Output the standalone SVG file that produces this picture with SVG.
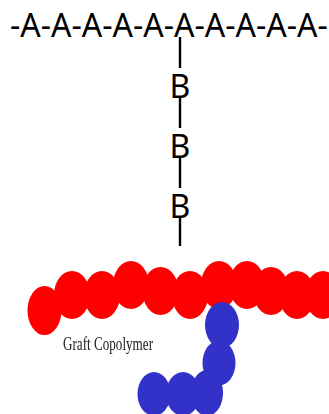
<svg xmlns="http://www.w3.org/2000/svg" width="329" height="414" viewBox="0 0 329 414">
  <style>
    .chem { font-family: "Noto Sans", sans-serif; font-size: 32px; fill: #000; }
    .bond { stroke: #000; stroke-width: 2.4; fill: none; }
    .red ellipse { fill: #ff0000; }
    .blue ellipse { fill: #3232c8; }
  </style>
  <defs>
    <filter id="soft" x="-5%" y="-5%" width="110%" height="110%"><feGaussianBlur stdDeviation="0.7"/></filter>
  </defs>
  <rect width="329" height="414" fill="#fff"/>
  <g id="connectors">
    <line class="bond" x1="180" y1="37" x2="180" y2="68"/>
    <line class="bond" x1="180" y1="97" x2="180" y2="128"/>
    <line class="bond" x1="180" y1="157" x2="180" y2="188"/>
    <line class="bond" x1="180" y1="217" x2="180" y2="246"/>
  </g>
  <g id="chain-a"><text class="chem" x="10" y="37">-A-A-A-A-A-A-A-A-A-A-</text></g>
  <g id="unit-b1"><text class="chem" x="180" y="98" text-anchor="middle">B</text></g>
  <g id="unit-b2"><text class="chem" x="180" y="158" text-anchor="middle">B</text></g>
  <g id="unit-b3"><text class="chem" x="180" y="218" text-anchor="middle">B</text></g>
  <g id="graft-copolymer" filter="url(#soft)">
    <g class="red">
      <ellipse cx="44.5" cy="310.5" rx="17" ry="24.5"/>
      <ellipse cx="72" cy="295" rx="18" ry="24"/>
      <ellipse cx="102" cy="295" rx="18" ry="24"/>
      <ellipse cx="131" cy="285" rx="18" ry="24"/>
      <ellipse cx="160.5" cy="291" rx="18" ry="24"/>
      <ellipse cx="190" cy="295" rx="18" ry="24"/>
      <ellipse cx="219" cy="285" rx="18" ry="24"/>
      <ellipse cx="247" cy="285" rx="18" ry="24"/>
      <ellipse cx="271" cy="291" rx="18" ry="24"/>
      <ellipse cx="297" cy="295" rx="18" ry="24"/>
      <ellipse cx="323" cy="295" rx="18" ry="24"/>
    </g>
    <g class="blue">
      <ellipse cx="222" cy="325" rx="17" ry="23"/>
      <ellipse cx="219" cy="363" rx="16.5" ry="22.5"/>
      <ellipse cx="207" cy="393" rx="16" ry="23"/>
      <ellipse cx="183" cy="394" rx="17" ry="22"/>
      <ellipse cx="154" cy="394" rx="16.5" ry="22"/>
    </g>
    <text x="63" y="350" font-family="Liberation Serif, serif" font-size="18" fill="#222" textLength="90" lengthAdjust="spacingAndGlyphs">Graft Copolymer</text>
  </g>
</svg>
